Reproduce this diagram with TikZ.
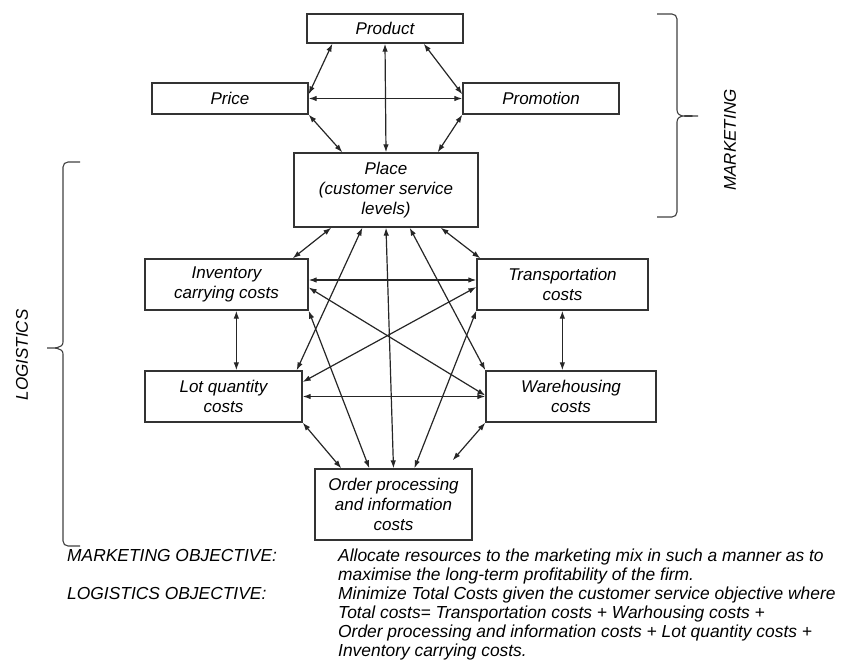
\documentclass[tikz,border=0pt]{standalone}
\usepackage{fontspec}
\setmainfont{Liberation Sans}
\usetikzlibrary{arrows.meta, positioning, calc}

\begin{document}
\begin{tikzpicture}[
    x=1pt, y=-1pt,
    box/.style={draw=black!80, line width=1.3pt, rectangle, align=center,
                inner sep=0pt, font=\fontsize{17}{20}\selectfont\itshape},
    link/.style={<->, line width=1.2pt, draw=black!85},
    brline/.style={draw=black!75, line width=1.1pt},
    side/.style={rotate=90, font=\fontsize{17}{20}\selectfont\itshape},
    obj/.style={font=\fontsize{17.4}{19}\selectfont\itshape, inner sep=0pt,
                align=left},
    >={Latex[length=8pt, width=5.5pt]},
]
\useasboundingbox (0,0) rectangle (846,663);
% marketing mix
\node[box, minimum width=156pt, minimum height=29pt] (prod) at (385,28.5) {Product};
\node[box, minimum width=156pt, minimum height=31pt] (price) at (230,98.5) {Price};
\node[box, minimum width=156pt, minimum height=31pt] (promo) at (541,98.5) {Promotion};
\node[box, minimum width=184pt, minimum height=74pt] (place) at (386,190)
     {Place\\(customer service\\levels)};
% logistics costs
\node[box, minimum width=163pt, minimum height=51pt] (inv) at (226.5,284.5) {Inventory\\carrying costs};
\node[box, minimum width=171pt, minimum height=51pt] (trans) at (562.5,284.5) {Transportation\\costs};
\node[box, minimum width=157pt, minimum height=51pt] (lot) at (223.5,396.5) {Lot quantity\\costs};
\node[box, minimum width=170pt, minimum height=51pt] (ware) at (571,396.5) {Warehousing\\costs};
\node[box, minimum width=157pt, minimum height=71pt] (order) at (393.5,504.5)
     {Order processing\\and information\\costs};

\draw[link] ($(prod.south west)+(26,0)$) -- ($(price.north east)+(0,12)$);
\draw[link] (prod.south) -- (place.north);
\draw[link] ($(prod.south east)+(-40,0)$) -- ($(promo.north west)+(0,12)$);
\draw[link] (price.east) -- (promo.west);
\draw[link] (price.south east) -- ($(place.north west)+(49,0)$);
\draw[link] (promo.south west) -- ($(place.north east)+(-41,0)$);

\draw[link] ($(place.south west)+(38,0)$) -- ($(inv.north east)+(-16,0)$);
\draw[link] ($(place.south west)+(69,0)$) -- ($(lot.north east)+(-6,0)$);
\draw[link] (place.south) -- (order.north);
\draw[link] ($(place.south east)+(-69,0)$) -- (ware.north west);
\draw[link] ($(place.south east)+(-38,0)$) -- ($(trans.north west)+(4,0)$);

\draw[link] ($(inv.east)+(0,-4.5)$) -- ($(trans.west)+(0,-4.5)$);
\draw[link] ($(inv.south west)+(92,0)$) -- ($(lot.north west)+(92,0)$);
\draw[link] ($(trans.south west)+(86,0)$) -- ($(ware.north west)+(77,0)$);
\draw[link] (lot.east) -- (ware.west);
\draw[link] ($(inv.east)+(0,3)$) -- ($(ware.west)+(0,-1)$);
\draw[link] ($(trans.west)+(0,2.5)$) -- ($(lot.east)+(0,-14.5)$);
\draw[link] (inv.south east) -- ($(order.north west)+(55,0)$);
\draw[link] (trans.south west) -- ($(order.north west)+(100,0)$);
\draw[link] (lot.south east) -- ($(order.north west)+(27,0)$);
\coordinate (wend) at ($(order.north east)+(-20,-8)$);
\draw[link] (ware.south west) -- (wend);

% braces
\coordinate (mtop) at (657,14);
\coordinate (mtip) at (698,116);
\coordinate (mbot) at (657,217);
\draw[brline] (mtop) -- (672,14) to[out=0,in=90] (677,19) -- (677,110)
   to[out=-90,in=180] (mtip) to[out=180,in=90] (677,122) -- (677,212)
   to[out=-90,in=0] (672,217) -- (mbot);
\node[side] (mklabel) at (730,140) {MARKETING};
\coordinate (ltop) at (80,162);
\coordinate (ltip) at (47,348);
\coordinate (lbot) at (80,546);
\draw[brline] (ltop) -- (68,162) to[out=180,in=90] (63,167) -- (63,342)
   to[out=-90,in=0] (ltip) to[out=0,in=90] (63,354) -- (63,541)
   to[out=-90,in=180] (68,546) -- (lbot);
\node[side] (lglabel) at (22,355) {LOGISTICS};

% objectives
\node[obj, anchor=north west] (mkobj) at (67,549) {MARKETING OBJECTIVE:};
\node[obj, anchor=north west] (lgobj) at (67,587) {LOGISTICS OBJECTIVE:};
\node[obj, anchor=north west] (objtxt) at (338,549)
     {Allocate resources to the marketing mix in such a manner as to\\
      maximise the long-term profitability of the firm.\\
      Minimize Total Costs given the customer service objective where\\
      Total costs= Transportation costs + Warhousing costs +\\
      Order processing and information costs + Lot quantity costs +\\
      Inventory carrying costs.};
\end{tikzpicture}
\end{document}
